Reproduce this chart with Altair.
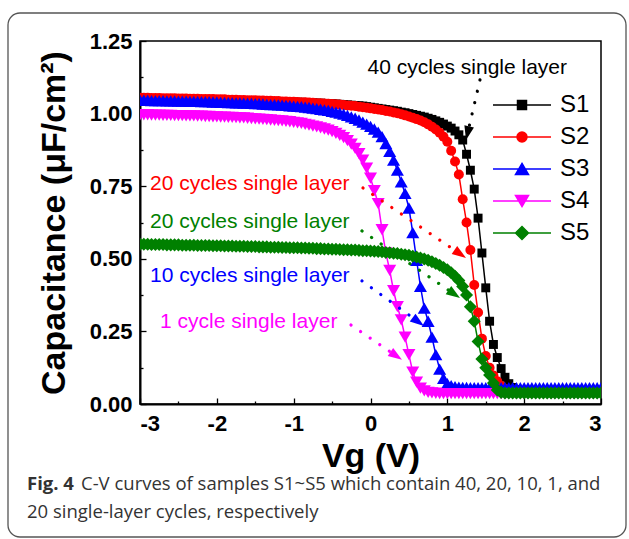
import math
import altair as alt
import pandas as pd

# Gate-voltage sweep (V), 0.05 V step
VG = [round(-3 + 0.05 * i, 2) for i in range(121)]

# Capacitance (uF/cm^2) for each sample along the sweep
S1 = [1.052, 1.052, 1.052, 1.051, 1.051, 1.051, 1.051, 1.050, 1.050, 1.050, 1.050,
      1.049, 1.049, 1.049, 1.049, 1.048, 1.048, 1.048, 1.048, 1.047, 1.047,
      1.047, 1.046, 1.046, 1.046, 1.045, 1.045, 1.045, 1.044, 1.044, 1.044,
      1.043, 1.043, 1.043, 1.042, 1.042, 1.041, 1.041, 1.041, 1.040, 1.040,
      1.039, 1.039, 1.038, 1.038, 1.037, 1.036, 1.036, 1.035, 1.034, 1.034,
      1.033, 1.032, 1.031, 1.030, 1.029, 1.028, 1.027, 1.026, 1.024, 1.022,
      1.020, 1.018, 1.016, 1.014, 1.012, 1.010, 1.008, 1.005, 1.003, 1.000,
      0.997, 0.994, 0.991, 0.988, 0.984, 0.980, 0.975, 0.970, 0.964, 0.957,
      0.950, 0.940, 0.927, 0.909, 0.860, 0.805, 0.740, 0.640, 0.520, 0.400,
      0.285, 0.205, 0.160, 0.122, 0.092, 0.070, 0.057, 0.050, 0.046, 0.044,
      0.043, 0.042, 0.042, 0.041, 0.041, 0.041, 0.040, 0.040, 0.040, 0.040,
      0.040, 0.040, 0.040, 0.040, 0.040, 0.040, 0.040, 0.040, 0.040, 0.040]
S2 = [1.055, 1.055, 1.055, 1.054, 1.054, 1.054, 1.053, 1.053, 1.053, 1.053, 1.052,
      1.052, 1.052, 1.051, 1.051, 1.051, 1.050, 1.050, 1.050, 1.050, 1.049,
      1.049, 1.049, 1.048, 1.048, 1.048, 1.047, 1.047, 1.046, 1.046, 1.046,
      1.045, 1.045, 1.044, 1.044, 1.043, 1.043, 1.042, 1.042, 1.041, 1.041,
      1.040, 1.039, 1.039, 1.038, 1.037, 1.036, 1.036, 1.035, 1.034, 1.033,
      1.032, 1.031, 1.030, 1.028, 1.027, 1.026, 1.024, 1.022, 1.020, 1.018,
      1.016, 1.014, 1.012, 1.009, 1.007, 1.004, 1.001, 0.998, 0.994, 0.990,
      0.986, 0.981, 0.976, 0.970, 0.963, 0.955, 0.945, 0.934, 0.920, 0.903,
      0.872, 0.835, 0.790, 0.705, 0.625, 0.530, 0.410, 0.315, 0.225, 0.165,
      0.125, 0.098, 0.078, 0.062, 0.052, 0.046, 0.043, 0.042, 0.041, 0.041,
      0.041, 0.040, 0.040, 0.040, 0.040, 0.040, 0.040, 0.040, 0.040, 0.040,
      0.040, 0.040, 0.040, 0.040, 0.040, 0.040, 0.040, 0.040, 0.040, 0.040]
S3 = [1.046, 1.046, 1.046, 1.045, 1.045, 1.045, 1.045, 1.044, 1.044, 1.044, 1.043,
      1.043, 1.043, 1.042, 1.042, 1.042, 1.041, 1.041, 1.041, 1.040, 1.040,
      1.039, 1.039, 1.038, 1.038, 1.037, 1.037, 1.036, 1.036, 1.035, 1.034,
      1.034, 1.033, 1.032, 1.031, 1.031, 1.030, 1.029, 1.028, 1.027, 1.026,
      1.025, 1.024, 1.022, 1.021, 1.019, 1.017, 1.015, 1.013, 1.011, 1.008,
      1.005, 1.002, 0.998, 0.994, 0.989, 0.984, 0.978, 0.971, 0.964, 0.956,
      0.947, 0.936, 0.921, 0.897, 0.870, 0.840, 0.805, 0.765, 0.725, 0.675,
      0.590, 0.495, 0.405, 0.330, 0.285, 0.230, 0.170, 0.120, 0.088, 0.070,
      0.063, 0.060, 0.058, 0.057, 0.057, 0.056, 0.056, 0.056, 0.056, 0.056,
      0.056, 0.056, 0.056, 0.056, 0.056, 0.056, 0.056, 0.056, 0.056, 0.056,
      0.056, 0.056, 0.056, 0.056, 0.056, 0.056, 0.056, 0.056, 0.056, 0.056,
      0.056, 0.056, 0.056, 0.056, 0.056, 0.056, 0.056, 0.056, 0.056, 0.056]
S4 = [0.996, 0.996, 0.996, 0.995, 0.995, 0.995, 0.994, 0.994, 0.994, 0.993, 0.993,
      0.993, 0.992, 0.992, 0.992, 0.991, 0.991, 0.990, 0.990, 0.989, 0.989,
      0.988, 0.988, 0.987, 0.987, 0.986, 0.985, 0.985, 0.984, 0.983, 0.982,
      0.981, 0.980, 0.979, 0.978, 0.977, 0.976, 0.975, 0.973, 0.972, 0.970,
      0.968, 0.966, 0.963, 0.960, 0.957, 0.954, 0.951, 0.947, 0.943, 0.938,
      0.932, 0.925, 0.917, 0.907, 0.895, 0.880, 0.862, 0.840, 0.812, 0.778,
      0.735, 0.690, 0.600, 0.520, 0.460, 0.390, 0.335, 0.290, 0.230, 0.170,
      0.110, 0.075, 0.055, 0.045, 0.040, 0.038, 0.037, 0.036, 0.036, 0.036,
      0.036, 0.036, 0.036, 0.036, 0.036, 0.036, 0.036, 0.036, 0.036, 0.036,
      0.036, 0.036, 0.036, 0.036, 0.036, 0.036, 0.036, 0.036, 0.036, 0.036,
      0.036, 0.036, 0.036, 0.036, 0.036, 0.036, 0.036, 0.036, 0.036, 0.036,
      0.036, 0.036, 0.036, 0.036, 0.036, 0.036, 0.036, 0.036, 0.036, 0.036]
S5 = [0.550, 0.550, 0.550, 0.549, 0.549, 0.549, 0.549, 0.548, 0.548, 0.548, 0.548,
      0.547, 0.547, 0.547, 0.547, 0.546, 0.546, 0.546, 0.546, 0.545, 0.545,
      0.545, 0.544, 0.544, 0.544, 0.543, 0.543, 0.543, 0.542, 0.542, 0.542,
      0.541, 0.541, 0.541, 0.540, 0.540, 0.540, 0.539, 0.539, 0.538, 0.538,
      0.538, 0.537, 0.537, 0.536, 0.536, 0.535, 0.535, 0.534, 0.534, 0.533,
      0.533, 0.532, 0.531, 0.531, 0.530, 0.530, 0.529, 0.528, 0.528, 0.527,
      0.526, 0.525, 0.524, 0.522, 0.521, 0.519, 0.518, 0.516, 0.514, 0.512,
      0.509, 0.506, 0.503, 0.499, 0.495, 0.490, 0.484, 0.478, 0.470, 0.462,
      0.452, 0.440, 0.425, 0.405, 0.375, 0.335, 0.285, 0.215, 0.155, 0.125,
      0.100, 0.072, 0.048, 0.040, 0.038, 0.038, 0.038, 0.038, 0.038, 0.038,
      0.038, 0.038, 0.038, 0.038, 0.038, 0.038, 0.038, 0.038, 0.038, 0.038,
      0.038, 0.038, 0.038, 0.038, 0.038, 0.038, 0.038, 0.038, 0.038, 0.038]

SERIES = ["S1", "S2", "S3", "S4", "S5"]
COLORS = ["#000000", "#FF0000", "#0000FF", "#FF00FF", "#008000"]
MARKERS = ["square", "circle", "triangle-up", "triangle-down", "diamond"]
MARKER_SIZES = [80, 100, 170, 170, 170]

# Legend glyphs: a line segment with the sample's marker in the middle
LEGEND_GLYPHS = [
    "M-1,0H1M-0.155,-0.155H0.155V0.155H-0.155Z",
    "M-1,0H1M-0.172,0A0.172,0.172,0,1,0,0.172,0A0.172,0.172,0,1,0,-0.172,0Z",
    "M-1,0H1M0,-0.19L0.224,0.19L-0.224,0.19Z",
    "M-1,0H1M0,0.19L0.224,-0.19L-0.224,-0.19Z",
    "M-1,0H1M0,-0.224L0.224,0L0,0.224L-0.224,0Z",
]

# Annotations: text, colour, anchor (V, C), alignment
ANN_TEXT = ["40 cycles single layer", "20 cycles single layer",
            "20 cycles single layer", "10 cycles single layer",
            "1 cycle single layer"]
ANN_COLOR = ["#000000", "#FF0000", "#008000", "#0000FF", "#FF00FF"]
ANN_V = [2.558, -2.870, -2.870, -2.870, -2.740]
ANN_C = [1.157, 0.758, 0.627, 0.441, 0.282]
ANN_ALIGN = ["right", "left", "left", "left", "left"]

# Dotted arrows from each annotation to its curve
ARROW_FROM_V = [1.425, -0.098, -0.111, -0.111, -0.254]
ARROW_FROM_C = [1.116, 0.744, 0.596, 0.424, 0.272]
ARROW_TO_V = [1.243, 1.243, 1.165, 0.696, 0.410]
ARROW_TO_C = [0.909, 0.503, 0.365, 0.269, 0.152]

CAPTION_BOLD = "Fig. 4"
CAPTION_LINE1 = "C-V curves of samples S1~S5 which contain 40, 20, 10, 1, and"
CAPTION_LINE2 = "20 single-layer cycles, respectively"

W, H = 461, 363
X_DOMAIN = [-3, 3]
Y_DOMAIN = [0, 1.25]
FONT = "Liberation Sans"

rows = []
for name, vals in zip(SERIES, [S1, S2, S3, S4, S5]):
    for v, c in zip(VG, vals):
        rows.append({"series": name, "V": v, "C": c})
df = pd.DataFrame(rows)

xs = alt.Scale(domain=X_DOMAIN, nice=False, zero=False)
ys = alt.Scale(domain=Y_DOMAIN, nice=False, zero=False)

axis_bottom = alt.Axis(
    orient="bottom", values=[-3, -2, -1, 0, 1, 2, 3], labelExpr="'' + datum.value",
    ticks=False, tickSize=0, domain=True, domainColor="black", domainWidth=2,
    grid=False, labelFont=FONT, labelFontSize=22, labelFontWeight="bold",
    labelColor="black", labelPadding=9, title="Vg (V)", titleFont=FONT,
    titleFontSize=34, titleFontWeight="bold", titleColor="black", titlePadding=5)
axis_left = alt.Axis(
    orient="left", values=[0, 0.25, 0.5, 0.75, 1.0, 1.25], format=".2f",
    ticks=False, tickSize=0, domain=True, domainColor="black", domainWidth=2,
    grid=False, labelFont=FONT, labelFontSize=22, labelFontWeight="bold",
    labelColor="black", labelPadding=8, title="Capacitance (μF/cm²)",
    titleFont=FONT, titleFontSize=34, titleFontWeight="bold",
    titleColor="black", titlePadding=18)
# inward ticks drawn by axes placed on the opposite edges
axis_xticks = alt.Axis(
    orient="top", offset=-H, values=[-3 + 0.5 * k for k in range(13)],
    labels=False, domain=False, grid=False, ticks=True, tickColor="black",
    tickWidth=1.3, title=None,
    tickSize={"condition": {"test": "datum.value % 1 === 0", "value": 6}, "value": 3})
axis_yticks = alt.Axis(
    orient="right", offset=-W, values=[0.125 * k for k in range(11)],
    labels=False, domain=False, grid=False, ticks=True, tickColor="black",
    tickWidth=1.3, title=None,
    tickSize={"condition": {"test": "(datum.value * 4) % 1 === 0", "value": 6}, "value": 3})

layers = []

# rounded frame around the whole figure
frame = alt.Chart(pd.DataFrame({"a": [0]})).mark_rect(
    filled=False, color="#555555", strokeWidth=1.3, cornerRadius=12
).encode(x=alt.value(-132), x2=alt.value(486), y=alt.value(-28), y2=alt.value(496))
layers.append(frame)

for i, (name, col) in enumerate(zip(SERIES, COLORS)):
    sub = df[df["series"] == name]
    line = alt.Chart(sub).mark_line(color=col, strokeWidth=1.5, clip=True).encode(
        x=alt.X("V:Q", scale=xs, axis=axis_bottom if i == 0 else None),
        y=alt.Y("C:Q", scale=ys, axis=axis_left if i == 0 else None),
        order="V:Q")
    layers.append(line)

for i, (name, col, shp, sz) in enumerate(zip(SERIES, COLORS, MARKERS, MARKER_SIZES)):
    sub = df[df["series"] == name]
    pts = alt.Chart(sub).mark_point(
        shape=shp, size=sz, filled=True, color=col, opacity=1, clip=True
    ).encode(
        x=alt.X("V:Q", scale=xs, axis=axis_xticks if i == 0 else None),
        y=alt.Y("C:Q", scale=ys, axis=axis_yticks if i == 0 else None))
    layers.append(pts)

# annotation texts and dotted arrows
px_per_v = W / (X_DOMAIN[1] - X_DOMAIN[0])
px_per_c = H / (Y_DOMAIN[1] - Y_DOMAIN[0])
HEAD_PATH = "M0,0L-2,-0.7L-2,0.7Z"
for i in range(len(ANN_TEXT)):
    t = alt.Chart(pd.DataFrame({"V": [ANN_V[i]], "C": [ANN_C[i]], "t": [ANN_TEXT[i]]})).mark_text(
        align=ANN_ALIGN[i], baseline="middle", font=FONT, fontSize=21, color=ANN_COLOR[i]
    ).encode(x=alt.X("V:Q", scale=xs, axis=None), y=alt.Y("C:Q", scale=ys, axis=None), text="t:N")
    layers.append(t)

    dx = (ARROW_TO_V[i] - ARROW_FROM_V[i]) * px_per_v
    dy = -(ARROW_TO_C[i] - ARROW_FROM_C[i]) * px_per_c
    length = math.hypot(dx, dy)
    ux, uy = dx / length, dy / length
    end_v = ARROW_TO_V[i] - ux * 13 / px_per_v
    end_c = ARROW_TO_C[i] + uy * 13 / px_per_c
    angle = math.degrees(math.atan2(dy, dx)) % 360

    seg = alt.Chart(pd.DataFrame({"V": [ARROW_FROM_V[i]], "C": [ARROW_FROM_C[i]],
                                  "V2": [end_v], "C2": [end_c]})).mark_rule(
        color=ANN_COLOR[i], strokeWidth=3.2, strokeCap="round", strokeDash=[0.1, 11.5]
    ).encode(x=alt.X("V:Q", scale=xs, axis=None), y=alt.Y("C:Q", scale=ys, axis=None),
             x2="V2:Q", y2="C2:Q")
    layers.append(seg)

    head = alt.Chart(pd.DataFrame({"V": [ARROW_TO_V[i]], "C": [ARROW_TO_C[i]]})).mark_point(
        shape=HEAD_PATH, size=196, filled=True, color=ANN_COLOR[i], opacity=1, angle=angle
    ).encode(x=alt.X("V:Q", scale=xs, axis=None), y=alt.Y("C:Q", scale=ys, axis=None))
    layers.append(head)

# legend carrier: no marks drawn, only the legend built from explicit domains
leg = alt.Legend(
    title=None, orient="none", legendX=352, legendY=48, direction="vertical",
    padding=0, symbolSize=3364, symbolStrokeWidth=1.5, symbolOpacity=1,
    clipHeight=32, rowPadding=0, labelFont=FONT, labelFontSize=24,
    labelColor="black", labelOffset=8)
legend_layer = alt.Chart(df).transform_filter("false").mark_point(
    filled=True, opacity=1, strokeWidth=1.5
).encode(
    shape=alt.Shape("series:N", scale=alt.Scale(domain=SERIES, range=LEGEND_GLYPHS), legend=leg),
    fill=alt.Fill("series:N", scale=alt.Scale(domain=SERIES, range=COLORS), legend=leg),
    stroke=alt.Stroke("series:N", scale=alt.Scale(domain=SERIES, range=COLORS), legend=leg),
)
layers.append(legend_layer)

# caption below the plot
cap_font = "Open Sans"
cap_color = "#333333"
cap_size = 18.5
cap_bold = alt.Chart(pd.DataFrame({"t": [CAPTION_BOLD]})).mark_text(
    align="left", baseline="middle", font=cap_font, fontSize=cap_size, fontWeight="bold", color=cap_color
).encode(x=alt.value(-113), y=alt.value(443), text="t:N")
cap1 = alt.Chart(pd.DataFrame({"t": [CAPTION_LINE1]})).mark_text(
    align="left", baseline="middle", font=cap_font, fontSize=cap_size, color=cap_color
).encode(x=alt.value(-59), y=alt.value(443), text="t:N")
cap2 = alt.Chart(pd.DataFrame({"t": [CAPTION_LINE2]})).mark_text(
    align="left", baseline="middle", font=cap_font, fontSize=cap_size, color=cap_color
).encode(x=alt.value(-113), y=alt.value(471), text="t:N")
layers += [cap_bold, cap1, cap2]

chart = alt.layer(*layers).resolve_axis(
    x="independent", y="independent"
).properties(
    width=W, height=H,
    padding={"left": 140, "top": 41, "right": 28, "bottom": 135},
    autosize=alt.AutoSizeParams(type="none"),
    background="white",
).configure_view(stroke="black", strokeWidth=1.5)

chart.save("out.html", embed_options={"renderer": "svg", "actions": False})
